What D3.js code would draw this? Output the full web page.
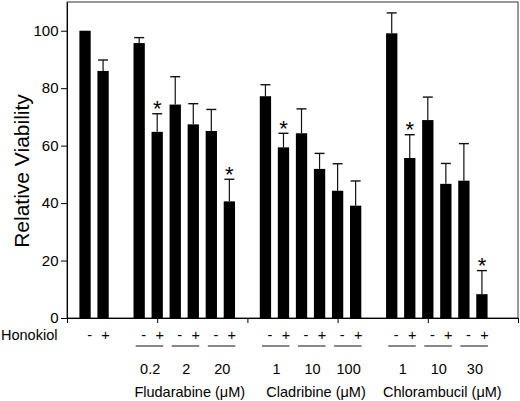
<!DOCTYPE html>
<html>
<head>
<meta charset="utf-8">
<script src="https://cdn.jsdelivr.net/npm/d3@7"></script>
<style>
    body { margin: 0; background: #fff; }
    svg { display: block; font-family: "Liberation Sans", Arial, sans-serif; }
</style>
</head>
<body>
<div id="chart"></div>
<script>
// values: bar height and upper error (SE)
const drugs = ["Fludarabine", "Cladribine", "Chlorambucil"];
const doses = [["0.2", "2", "20"], ["1", "10", "100"], ["1", "10", "30"]];
const honokiol = ["-", "+"];

const control_mean = [100, 86];
const control_err = [0, 3.8];
const flud_mean = [95.7, 64.8, 74.3, 67.4, 65.1, 40.6];
const flud_err = [1.9, 6.3, 9.7, 7.2, 7.5, 7.7];
const clad_mean = [77.2, 59.4, 64.3, 51.9, 44.3, 39.1];
const clad_err = [4.0, 4.9, 8.5, 5.4, 9.4, 8.6];
const chlo_mean = [99.1, 55.7, 68.9, 46.7, 47.8, 8.3];
const chlo_err = [7.1, 8.1, 8.0, 7.1, 12.9, 8.2];
// index of the bars marked with *
const flud_sig = [1, 5];
const clad_sig = [1];
const chlo_sig = [1, 5];

const y_ticks = [0, 20, 40, 60, 80, 100];

const config = {
    width: 520,
    height: 401,
    left: 67, right: 518, top: 2, bottom: 318,
    barWidth: 11.3,
    capWidth: 10,
    font: 14.5
}

const groups = [
    { name: null, mean: control_mean, err: control_err, sig: [], doses: [""] },
    { name: drugs[0], mean: flud_mean, err: flud_err, sig: flud_sig, doses: doses[0] },
    { name: drugs[1], mean: clad_mean, err: clad_err, sig: clad_sig, doses: doses[1] },
    { name: drugs[2], mean: chlo_mean, err: chlo_err, sig: chlo_sig, doses: doses[2] }
]

// lay bars out on slots, one empty slot between groups
let bars = [];
let pairs = [];
let slot = 0;
groups.forEach(g => {
    g.start = slot;
    g.mean.forEach((m, i) => {
        bars.push({ slot: slot + i, mean: m, err: g.err[i], sig: g.sig.includes(i) });
    })
    g.doses.forEach((dose, j) => {
        pairs.push({ center: slot + j * 2 + 0.5, dose: dose, drug: g.name });
    })
    slot += g.mean.length + 1;
})

const svg = d3.select("#chart")
    .append("svg")
    .attr("width", config.width)
    .attr("height", config.height)

const scale_x = d3.scaleLinear()
    .domain([-1, 24])
    .range([config.left, config.right]);
const scale_y = d3.scaleLinear()
    .domain([0, 110])
    .range([config.bottom, config.top]);

// frame
svg.append("rect")
    .attr("x", config.left)
    .attr("y", config.top)
    .attr("width", config.right - config.left)
    .attr("height", config.bottom - config.top)
    .attr("fill", "none")
    .attr("stroke", "#333")
    .attr("stroke-width", 1)

draw_bars();
draw_axis();
draw_labels();

function draw_axis() {
    let axis_y = d3.axisLeft(scale_y)
        .tickValues(y_ticks)
        .tickSize(6)
        .tickSizeOuter(0)
        .tickPadding(2.5)
    svg.append("g")
        .attr("transform", `translate(${config.left}, 0)`)
        .call(axis_y)
        .attr("font-size", 15)
        .attr("font-family", null)

    let axis_x = d3.axisBottom(scale_x)
        .tickValues([-1, 4, 9, 14, 19, 24])
        .tickFormat("")
        .tickSize(5)
        .tickSizeOuter(0)
    svg.append("g")
        .attr("transform", `translate(0, ${config.bottom})`)
        .call(axis_x)
}

function draw_bars() {
    const g = svg.append("g");
    g.selectAll("rect")
        .data(bars)
        .join("rect")
        .attr("x", d => scale_x(d.slot) - config.barWidth / 2)
        .attr("y", d => scale_y(d.mean))
        .attr("width", config.barWidth)
        .attr("height", d => scale_y(0) - scale_y(d.mean))
        .attr("fill", "#000")

    const with_err = bars.filter(d => d.err > 0);
    g.selectAll("line.err")
        .data(with_err)
        .join("line")
        .attr("class", "err")
        .attr("x1", d => scale_x(d.slot))
        .attr("x2", d => scale_x(d.slot))
        .attr("y1", d => scale_y(d.mean))
        .attr("y2", d => scale_y(d.mean + d.err))
        .attr("stroke", "#111")
        .attr("stroke-width", 1.2)
    g.selectAll("line.cap")
        .data(with_err)
        .join("line")
        .attr("class", "cap")
        .attr("x1", d => scale_x(d.slot) - config.capWidth / 2)
        .attr("x2", d => scale_x(d.slot) + config.capWidth / 2)
        .attr("y1", d => scale_y(d.mean + d.err))
        .attr("y2", d => scale_y(d.mean + d.err))
        .attr("stroke", "#111")
        .attr("stroke-width", 1.4)

    g.selectAll("text.star")
        .data(bars.filter(d => d.sig))
        .join("text")
        .attr("class", "star")
        .attr("x", d => scale_x(d.slot))
        .attr("y", d => scale_y(d.mean + d.err) + 2.5)
        .attr("text-anchor", "middle")
        .attr("font-size", 22)
        .text("*")
}

function draw_labels() {
    const g = svg.append("g").attr("font-size", config.font).attr("fill", "#000");

    g.append("text")
        .attr("transform", "translate(29, 171) rotate(-90)")
        .attr("text-anchor", "middle")
        .attr("font-size", 21)
        .text("Relative Viability")

    g.append("text")
        .attr("x", 1)
        .attr("y", 340)
        .text("Honokiol")

    // - / + under each pair
    pairs.forEach(p => {
        const cx = scale_x(p.center);
        g.append("text")
            .attr("x", cx - 4.5)
            .attr("y", 340)
            .attr("text-anchor", "middle")
            .text(honokiol[0])
        g.append("text")
            .attr("x", cx + 11.5)
            .attr("y", 340)
            .attr("text-anchor", "middle")
            .text(honokiol[1])
        if (p.drug) {
            g.append("line")
                .attr("x1", cx - 12.5)
                .attr("x2", cx + 15)
                .attr("y1", 346)
                .attr("y2", 346)
                .attr("stroke", "#111")
                .attr("stroke-width", 1)
            g.append("text")
                .attr("x", cx + 2)
                .attr("y", 373.5)
                .attr("text-anchor", "middle")
                .text(p.dose)
        }
    })

    groups.filter(d => d.name).forEach(d => {
        const mid = scale_x(d.start + 2.5);
        g.append("text")
            .attr("x", mid + 5.5)
            .attr("y", 397)
            .attr("text-anchor", "middle")
            .text(d.name + " (\u03BCM)")
    })
}
</script>
</body>
</html>
